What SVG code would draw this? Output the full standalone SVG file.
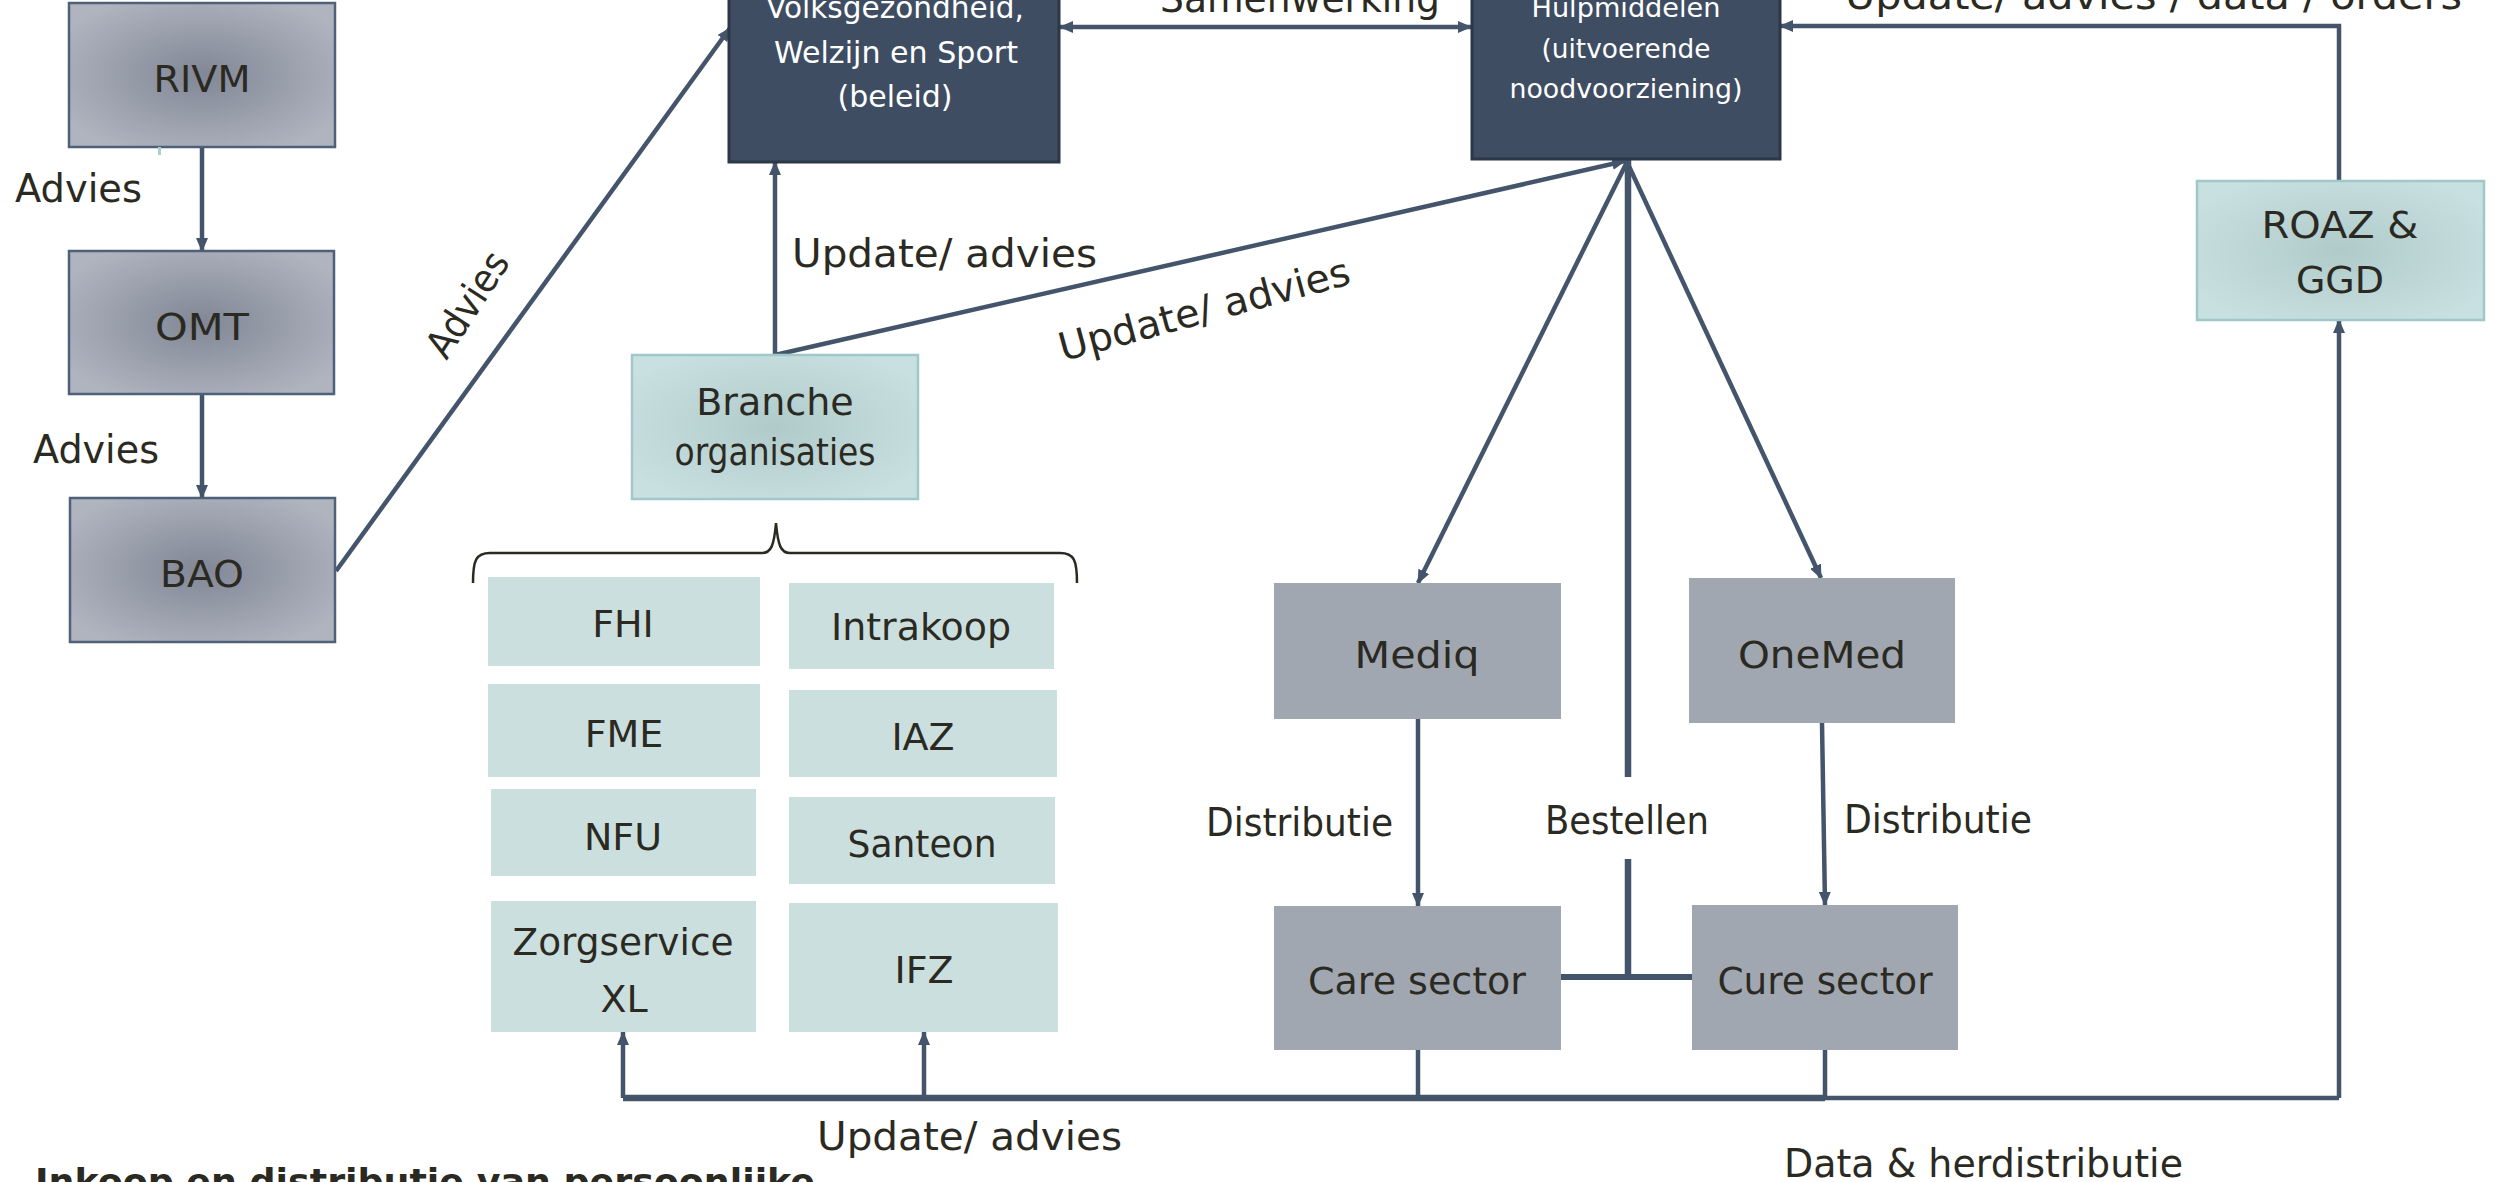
<svg xmlns="http://www.w3.org/2000/svg" width="2503" height="1182" viewBox="0 0 2503 1182">
<style>
text{font-family:"DejaVu Sans","Liberation Sans",sans-serif;fill:#2b2a22}
.lbl{font-size:39px}
.nd{font-size:38px;text-anchor:middle}
.wt{fill:#ffffff;text-anchor:middle}
.ln{stroke:#44546a;stroke-width:4.5;fill:none}
.thick{stroke:#44546a;stroke-width:6.5;fill:none}
.arr{marker-end:url(#ah)}
.gray{fill:url(#gGray);stroke:#4f6079;stroke-width:2.5}
.dark{fill:#3e4d62;stroke:#2c3747;stroke-width:3}
.flat{fill:#a1a7b1}
.teal{fill:#cbdfdf}
.tealg{fill:url(#gTeal);stroke:#a0c8c8;stroke-width:2.5}
</style>
<defs>
<radialGradient id="gGray" cx="50%" cy="50%" r="60%">
<stop offset="0" stop-color="#828796"/>
<stop offset="1" stop-color="#afb4bf"/>
</radialGradient>
<radialGradient id="gTeal" cx="50%" cy="50%" r="60%">
<stop offset="0" stop-color="#b0caca"/>
<stop offset="1" stop-color="#c9e0e1"/>
</radialGradient>
<marker id="ah" viewBox="0 0 14 12" refX="13" refY="6" markerWidth="14" markerHeight="12" orient="auto-start-reverse" markerUnits="userSpaceOnUse">
<path d="M0,0 L14,6 L0,12 z" fill="#44546a"/>
</marker>
</defs>
<rect width="2503" height="1182" fill="#ffffff"/>

<g id="connectors">
<line class="ln arr" x1="202" y1="147" x2="202" y2="251"/>
<line class="ln arr" x1="202" y1="394" x2="202" y2="498"/>
<line class="ln arr" x1="336" y1="571" x2="730" y2="28"/>
<line class="ln arr" x1="1060" y1="27" x2="1471" y2="27" marker-start="url(#ah)"/>
<polyline class="ln arr" points="2339,181 2339,26 1780,26"/>
<line class="ln arr" x1="775" y1="355" x2="775" y2="162"/>
<line class="ln arr" x1="775" y1="355" x2="1625" y2="161"/>
<line class="ln arr" x1="1627" y1="162" x2="1418" y2="583"/>
<line class="ln arr" x1="1627" y1="162" x2="1821" y2="578"/>
<line class="thick arr" x1="1628" y1="777" x2="1628" y2="136"/>
<line class="thick" x1="1628" y1="859" x2="1628" y2="977"/>
<line class="ln" x1="1561" y1="977" x2="1692" y2="977" style="stroke-width:6"/>
<line class="ln arr" x1="1418" y1="719" x2="1418" y2="906"/>
<line class="ln arr" x1="1822" y1="723" x2="1825" y2="905"/>
<line class="ln" x1="1418" y1="1050" x2="1418" y2="1098"/>
<line class="ln" x1="1825" y1="1050" x2="1825" y2="1098"/>
<polyline class="thick" points="623,1098 1825,1098"/>
<polyline class="ln" points="1825,1098 2339,1098"/>
<line class="ln arr" x1="623" y1="1098" x2="623" y2="1032"/>
<line class="ln arr" x1="924" y1="1098" x2="924" y2="1032"/>
<line class="ln arr" x1="2339" y1="1098" x2="2339" y2="320"/>
<path d="M473,583 C473,560 476,553 490,553 L762,553 C771,553 774,546 776,523 C778,546 781,553 790,553 L1060,553 C1074,553 1077,560 1077,583" fill="none" stroke="#2b2a22" stroke-width="2.5"/>
</g>

<g id="edge-labels">
<text class="lbl" x="15" y="202" textLength="127" lengthAdjust="spacingAndGlyphs">Advies</text>
<text class="lbl" x="33" y="463" textLength="126" lengthAdjust="spacingAndGlyphs">Advies</text>
<text class="lbl" transform="translate(467,304) rotate(-57)" x="0" y="14" text-anchor="middle" textLength="118" lengthAdjust="spacingAndGlyphs">Advies</text>
<text class="lbl" x="1160" y="12" textLength="280" lengthAdjust="spacingAndGlyphs">Samenwerking</text>
<text class="lbl" x="1845" y="9" textLength="617" lengthAdjust="spacingAndGlyphs">Update/ advies / data / orders</text>
<text class="lbl" x="792" y="267" textLength="305" lengthAdjust="spacingAndGlyphs">Update/ advies</text>
<text class="lbl" transform="translate(1204,309) rotate(-15)" x="0" y="14" text-anchor="middle" textLength="300" lengthAdjust="spacingAndGlyphs">Update/ advies</text>
<text class="lbl" x="1206" y="836" textLength="187" lengthAdjust="spacingAndGlyphs">Distributie</text>
<text class="lbl" x="1545" y="834" textLength="164" lengthAdjust="spacingAndGlyphs">Bestellen</text>
<text class="lbl" x="1844" y="833" textLength="188" lengthAdjust="spacingAndGlyphs">Distributie</text>
<text class="lbl" x="817" y="1150" textLength="305" lengthAdjust="spacingAndGlyphs">Update/ advies</text>
<text class="lbl" x="1784" y="1177" textLength="399" lengthAdjust="spacingAndGlyphs">Data &amp; herdistributie</text>
</g>

<g id="node-rivm">
<rect class="gray" x="69" y="3" width="266" height="144"/>
<text class="nd" x="202" y="92" textLength="97" lengthAdjust="spacingAndGlyphs">RIVM</text>
</g>
<rect x="158" y="147" width="3" height="8" fill="#a8d0d0"/>
<g id="node-omt">
<rect class="gray" x="69" y="251" width="265" height="143"/>
<text class="nd" x="202" y="340" textLength="94" lengthAdjust="spacingAndGlyphs">OMT</text>
</g>
<g id="node-bao">
<rect class="gray" x="70" y="498" width="265" height="144"/>
<text class="nd" x="202" y="587" textLength="84" lengthAdjust="spacingAndGlyphs">BAO</text>
</g>

<g id="node-vws">
<rect class="dark" x="729" y="-60" width="330" height="222"/>
<text class="wt" x="895" y="18" font-size="31" textLength="258" lengthAdjust="spacingAndGlyphs">Volksgezondheid,</text>
<text class="wt" x="896" y="63" font-size="31" textLength="244" lengthAdjust="spacingAndGlyphs">Welzijn en Sport</text>
<text class="wt" x="895" y="107" font-size="31" textLength="115" lengthAdjust="spacingAndGlyphs">(beleid)</text>
</g>

<g id="node-lch">
<rect class="dark" x="1472" y="-60" width="308" height="219"/>
<text class="wt" x="1626" y="17" font-size="27" textLength="189" lengthAdjust="spacingAndGlyphs">Hulpmiddelen</text>
<text class="wt" x="1626" y="58" font-size="27" textLength="169" lengthAdjust="spacingAndGlyphs">(uitvoerende</text>
<text class="wt" x="1626" y="98" font-size="27" textLength="233" lengthAdjust="spacingAndGlyphs">noodvoorziening)</text>
</g>

<g id="node-roaz">
<rect class="tealg" x="2197" y="181" width="287" height="139"/>
<text class="nd" x="2340" y="238" font-size="36" textLength="157" lengthAdjust="spacingAndGlyphs">ROAZ &amp;</text>
<text class="nd" x="2340" y="293" font-size="36">GGD</text>
</g>

<g id="node-branche">
<rect class="tealg" x="632" y="355" width="286" height="144"/>
<text class="nd" x="775" y="415" font-size="33">Branche</text>
<text class="nd" x="775" y="465" font-size="33" textLength="201" lengthAdjust="spacingAndGlyphs">organisaties</text>
</g>

<g id="node-fhi"><rect class="teal" x="488" y="577" width="272" height="89"/><text class="nd" x="623" y="637">FHI</text></g>
<g id="node-intrakoop"><rect class="teal" x="789" y="583" width="265" height="86"/><text class="nd" x="921" y="640" textLength="180" lengthAdjust="spacingAndGlyphs">Intrakoop</text></g>
<g id="node-fme"><rect class="teal" x="488" y="684" width="272" height="93"/><text class="nd" x="624" y="747">FME</text></g>
<g id="node-iaz"><rect class="teal" x="789" y="690" width="268" height="87"/><text class="nd" x="923" y="750">IAZ</text></g>
<g id="node-nfu"><rect class="teal" x="491" y="789" width="265" height="87"/><text class="nd" x="623" y="850">NFU</text></g>
<g id="node-santeon"><rect class="teal" x="789" y="797" width="266" height="87"/><text class="nd" x="922" y="857" textLength="149" lengthAdjust="spacingAndGlyphs">Santeon</text></g>
<g id="node-zorgservice"><rect class="teal" x="491" y="901" width="265" height="131"/><text class="nd" x="623" y="955" textLength="221" lengthAdjust="spacingAndGlyphs">Zorgservice</text><text class="nd" x="624" y="1012">XL</text></g>
<g id="node-ifz"><rect class="teal" x="789" y="903" width="269" height="129"/><text class="nd" x="924" y="983">IFZ</text></g>

<g id="node-mediq"><rect class="flat" x="1274" y="583" width="287" height="136"/><text class="nd" x="1417" y="668" font-size="40" textLength="125" lengthAdjust="spacingAndGlyphs">Mediq</text></g>
<g id="node-onemed"><rect class="flat" x="1689" y="578" width="266" height="145"/><text class="nd" x="1822" y="668" font-size="40" textLength="168" lengthAdjust="spacingAndGlyphs">OneMed</text></g>
<g id="node-care"><rect class="flat" x="1274" y="906" width="287" height="144"/><text class="nd" x="1417" y="994" font-size="40" textLength="218" lengthAdjust="spacingAndGlyphs">Care sector</text></g>
<g id="node-cure"><rect class="flat" x="1692" y="905" width="266" height="145"/><text class="nd" x="1825" y="994" font-size="40" textLength="215" lengthAdjust="spacingAndGlyphs">Cure sector</text></g>

<text x="35" y="1194" font-size="36" font-weight="bold" textLength="780" lengthAdjust="spacingAndGlyphs">Inkoop en distributie van persoonlijke</text>
</svg>
